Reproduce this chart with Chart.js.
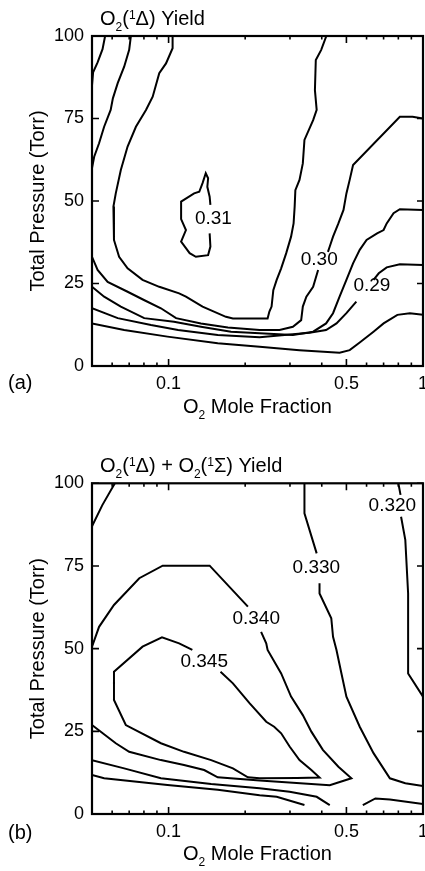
<!DOCTYPE html>
<html><head><meta charset="utf-8">
<script src="https://cdn.jsdelivr.net/npm/chart.js@4.4.0/dist/chart.umd.min.js"></script>
<style>
html,body{margin:0;padding:0;background:#fff;}
#wa{position:absolute;left:0;top:0;width:425px;height:435px}
#wb{position:absolute;left:0;top:435px;width:425px;height:436px}
</style></head><body>
<div id="wa"><canvas id="ca" width="425" height="435"></canvas></div>
<div id="wb"><canvas id="cb" width="425" height="436"></canvas></div>
<script>
// ---- axis ticks ----
const xTickValues = [0.05,0.06,0.07,0.08,0.09,0.1,0.2,0.3,0.4,0.5,0.6,0.7,0.8,0.9,1];
const xTickLabels = ['','','','','','0.1','','','','0.5','','','','','1'];
const xMajorValues = [0.1,0.5,1];
const yTickValues = [0,25,50,75,100];
const yTickLabels = ['0','25','50','75','100'];

// ---- panel (a): O2(1Δ) yield contours, [O2 mole fraction, pressure Torr]; null = gap ----
const a_c1 = [[0.0563,100],[0.055,96],[0.0526,92],[0.0505,89],[0.05,85]];
const a_c2 = [[0.0711,100],[0.070,95.8],[0.0669,90.7],[0.0631,85.7],[0.0604,81.1],[0.0592,77.6],[0.0558,72.5],[0.0533,67.5],[0.051,63.4],[0.05,60]];
const a_c3 = [[0.1037,100],[0.1037,96.3],[0.0977,91.7],[0.0919,88.7],[0.0866,81.6],[0.0815,77.6],[0.0744,72.5],[0.069,66.5],[0.0649,59.4],[0.062,52.3],[0.0607,48.3],[0.061,41.2],[0.061,38.2],[0.0639,33.1],[0.069,29.6],[0.079,26.1],[0.0919,24.0],[0.110,22.0],[0.117,21.0],[0.136,18.0],[0.168,14.9],[0.179,14.4],[0.245,14.4],[0.249,16.5],[0.254,18.0],[0.258,23.0],[0.266,26.1],[0.277,29.6],[0.290,34.2],[0.303,39.2],[0.31,43.2],[0.313,48.3],[0.315,53.3],[0.327,56.4],[0.337,61.4],[0.342,68.5],[0.370,74.5],[0.382,77.6],[0.376,83.6],[0.379,92.7],[0.398,95.8],[0.417,100]];
const a_c030 = [[0.05,33.1],[0.0526,29.1],[0.0576,25.5],[0.069,22.5],[0.080,20],[0.0933,17.5],[0.107,14.5],[0.134,12.9],[0.171,11.7],[0.228,10.9],[0.273,10.9],[0.308,11.9],[0.332,13.9],[0.337,18],[0.348,21],[0.37,24],[0.387,29.1],null,[0.423,34.6],[0.43,36.2],[0.443,39.2],[0.465,43.2],[0.487,47.3],[0.5,52.3],[0.515,56.4],[0.531,60.9],[0.811,75.5],[0.91,75.5],[1,75]];
const a_c5 = [[0.05,24],[0.0558,21],[0.0649,18],[0.0802,14.5],[0.105,13.4],[0.134,11.9],[0.176,10.4],[0.228,9.9],[0.308,9.4],[0.37,10.4],[0.416,12.9],[0.443,16],[0.47,21],[0.5,26.1],[0.531,31.1],[0.564,35.2],[0.6,38.2],[0.66,40.2],[0.70,41.2],[0.72,43.2],[0.766,46.3],[0.811,47.5],[1,47.3]];
const a_c029 = [[0.05,17.5],[0.0631,14.5],[0.0853,12.4],[0.109,10.9],[0.156,9.4],[0.228,8.7],[0.358,10.1],[0.416,10.9],[0.457,12.9],[0.5,16],[0.547,19.5],null,[0.639,26.1],[0.67,28.1],[0.72,29.9],[0.811,30.8],[1,30.6]];
const a_c7 = [[0.05,12.9],[0.0669,10.9],[0.099,8.9],[0.156,6.9],[0.228,5.8],[0.327,4.8],[0.47,4.0],[0.515,4.8],[0.564,7.1],[0.639,10.4],[0.70,12.9],[0.793,15.5],[0.888,16],[1,15.5]];
const a_c031 = [[0.146,48.8],[0.145,51.3],[0.142,54.3],[0.143,56.9],[0.140,58.4],[0.136,55.4],[0.132,52.8],[0.126,52.3],[0.112,49.8],[0.112,44.5],[0.117,41.2],[0.112,37.7],[0.121,34.2],[0.128,33.1],[0.143,33.6],[0.146,36.2],[0.145,40.2]];
const a_labelText = ['0.31','0.30','0.29'];
const a_labelX = [0.150,0.391,0.630];
const a_labelY = [44.7,32.1,24.3];

// ---- panel (b): O2(1Δ)+O2(1Σ) yield contours ----
const b_c1 = [[0.0615,100],[0.0549,93.4],[0.05,87]];
const b_c340 = [[0.05,50.6],[0.0533,56.6],[0.061,63.2],[0.0767,71.3],[0.0948,75.1],[0.145,75.1],[0.205,62.7],null,[0.231,55.1],[0.242,51.6],[0.245,49.6],[0.277,42.5],[0.303,35.5],[0.337,29.9],[0.364,24.9],[0.404,19.4],[0.465,14.3],[0.523,10.8],[0.43,8.7],[0.228,10.1],[0.156,11.1],[0.138,13.3],[0.115,14.8],[0.0933,16.3],[0.070,18.8],[0.062,21.4],[0.05,26.9]];
const b_c345 = [[0.160,43.0],[0.179,39.5],[0.208,33.5],[0.242,27.9],[0.26,26.4],[0.277,24.4],[0.299,20.4],[0.327,16.3],[0.364,13.3],[0.392,11.0],[0.32,10.9],[0.228,10.8],[0.205,11.1],[0.179,13.8],[0.147,16.3],[0.115,18.8],[0.0933,21.4],[0.0679,26.9],[0.061,34.5],[0.061,43.0],[0.079,50.6],[0.0942,53.4],[0.11,51.6],[0.124,49.6]];
const b_c330 = [[0.342,100],[0.342,90.9],[0.382,78.8],null,[0.392,69.8],[0.392,66.7],[0.436,59.2],[0.443,53.6],[0.457,49.6],[0.478,42.5],[0.5,35.5],[0.564,26.4],[0.639,18.4],[0.741,10.8],[0.852,9.3],[1.0,8.5]];
const b_c320 = [[0.80,100],[0.816,96.5],null,[0.82,89.9],[0.852,82.9],[0.874,66.7],[0.874,46.6],[0.874,42.5],[1.0,35.5]];
const b_c6 = [[0.05,16.3],[0.0669,13.8],[0.0933,10.8],[0.147,9.1],[0.228,7.8],[0.299,6.7],[0.382,5.2],[0.43,2.7]];
const b_c7 = [[0.05,11.8],[0.0558,10.8],[0.099,8.8],[0.156,7.3],[0.228,5.7],[0.266,5.2],[0.342,2.7]];
const b_c8 = [[0.58,2.7],[0.65,4.7],[0.741,4.4],[1.0,3.0]];
const b_labelText = ['0.320','0.330','0.340','0.345'];
const b_labelX = [0.758,0.381,0.221,0.138];
const b_labelY = [93.2,74.5,58.9,45.9];

const FONT = "'Liberation Sans', Arial, Helvetica, sans-serif";

function drawRich(ctx, parts, x, y, size, align) {
  const small = Math.round(size * 0.62);
  let w = 0;
  parts.forEach(p => { ctx.font = (p.s ? small : size) + 'px ' + FONT; w += ctx.measureText(p.t).width; });
  let cx = align === 'center' ? x - w / 2 : x;
  ctx.textAlign = 'left'; ctx.textBaseline = 'alphabetic'; ctx.fillStyle = '#000';
  parts.forEach(p => {
    ctx.font = (p.s ? small : size) + 'px ' + FONT;
    const dy = p.s === 'sub' ? size * 0.32 : (p.s === 'sup' ? -size * 0.3 : 0);
    ctx.fillText(p.t, cx, y + dy);
    cx += ctx.measureText(p.t).width;
  });
}

function makeChart(id, contours, lab, cfg) {
  const datasets = contours.map(c => ({
    data: c.map(p => p ? {x: p[0], y: p[1]} : {x: null, y: null}),
    borderColor: '#000', borderWidth: 2, pointRadius: 0, fill: false, tension: 0, spanGaps: false
  }));
  const overlay = {
    id: 'overlay' + id,
    afterDatasetsDraw(chart) {
      const {ctx, chartArea: a, scales: {x, y}} = chart;
      ctx.save();
      ctx.strokeStyle = '#000';
      ctx.lineWidth = 1.6;
      ctx.beginPath();
      xTickValues.forEach(v => {
        const px = x.getPixelForValue(v);
        const L = xMajorValues.includes(v) ? 7 : 3.5;
        ctx.moveTo(px, a.bottom); ctx.lineTo(px, a.bottom - L);
        ctx.moveTo(px, a.top); ctx.lineTo(px, a.top + L);
      });
      yTickValues.forEach(v => {
        const py = y.getPixelForValue(v);
        ctx.moveTo(a.left - 1, py); ctx.lineTo(a.left + 7, py);
        ctx.moveTo(a.right, py); ctx.lineTo(a.right - 6, py);
      });
      ctx.stroke();
      ctx.lineWidth = 2.2;
      ctx.strokeRect(a.left, a.top, a.right - a.left, a.bottom - a.top);
      // contour labels
      ctx.fillStyle = '#000';
      ctx.font = '19px ' + FONT;
      ctx.textAlign = 'center'; ctx.textBaseline = 'middle';
      lab.text.forEach((t, i) => ctx.fillText(t, x.getPixelForValue(lab.x[i]), y.getPixelForValue(lab.y[i])));
      // titles
      drawRich(ctx, cfg.title, 100, cfg.titleY, 20, 'left');
      drawRich(ctx, [{t:'O'},{t:'2',s:'sub'},{t:' Mole Fraction'}], (a.left + a.right) / 2, cfg.xTitleY, 20, 'center');
      ctx.save();
      ctx.translate(44, (a.top + a.bottom) / 2);
      ctx.rotate(-Math.PI / 2);
      ctx.font = '20px ' + FONT; ctx.textAlign = 'center'; ctx.textBaseline = 'alphabetic';
      ctx.fillText('Total Pressure (Torr)', 0, 0);
      ctx.restore();
      ctx.font = '20px ' + FONT; ctx.textAlign = 'left'; ctx.textBaseline = 'alphabetic';
      ctx.fillText(cfg.panel, 8, cfg.panelY);
      ctx.restore();
    }
  };
  return new Chart(document.getElementById(id), {
    type: 'line',
    data: {datasets},
    options: {
      responsive: false, animation: false, events: [],
      layout: {padding: {top: cfg.top, right: 2, left: 0, bottom: 0}},
      plugins: {legend: {display: false}, tooltip: {enabled: false}, title: {display: false}},
      scales: {
        x: {
          type: 'logarithmic', min: 0.05, max: 1,
          grid: {display: false, drawTicks: false}, border: {display: false},
          afterBuildTicks: s => { s.ticks = xTickValues.map(v => ({value: v})); },
          ticks: {autoSkip: false, maxRotation: 0, minRotation: 0, padding: 7, color: '#000',
                  font: {family: FONT, size: 18}, callback: (v, i) => xTickLabels[i]},
          afterFit: s => { s.height = cfg.H - cfg.bottom; s.paddingLeft = 0; s.paddingRight = 0; }
        },
        y: {
          type: 'linear', min: 0, max: 100,
          grid: {display: false, drawTicks: false}, border: {display: false},
          afterBuildTicks: s => { s.ticks = yTickValues.map(v => ({value: v})); },
          ticks: {padding: 8, color: '#000', font: {family: FONT, size: 18}, callback: (v, i) => yTickLabels[i]},
          afterFit: s => { s.width = 92; s.paddingTop = 0; s.paddingBottom = 0; }
        }
      }
    },
    plugins: [overlay]
  });
}

makeChart('ca', [a_c1, a_c2, a_c3, a_c030, a_c5, a_c029, a_c7, a_c031],
  {text: a_labelText, x: a_labelX, y: a_labelY},
  {top: 36, bottom: 366, H: 435, titleY: 25, xTitleY: 413, panel: '(a)', panelY: 389,
   title: [{t:'O'},{t:'2',s:'sub'},{t:'('},{t:'1',s:'sup'},{t:'Δ) Yield'}]});

makeChart('cb', [b_c1, b_c340, b_c345, b_c330, b_c320, b_c6, b_c7, b_c8],
  {text: b_labelText, x: b_labelX, y: b_labelY},
  {top: 48.3, bottom: 379, H: 436, titleY: 37, xTitleY: 425, panel: '(b)', panelY: 404,
   title: [{t:'O'},{t:'2',s:'sub'},{t:'('},{t:'1',s:'sup'},{t:'Δ) + O'},{t:'2',s:'sub'},{t:'('},{t:'1',s:'sup'},{t:'Σ) Yield'}]});
</script>
</body></html>
